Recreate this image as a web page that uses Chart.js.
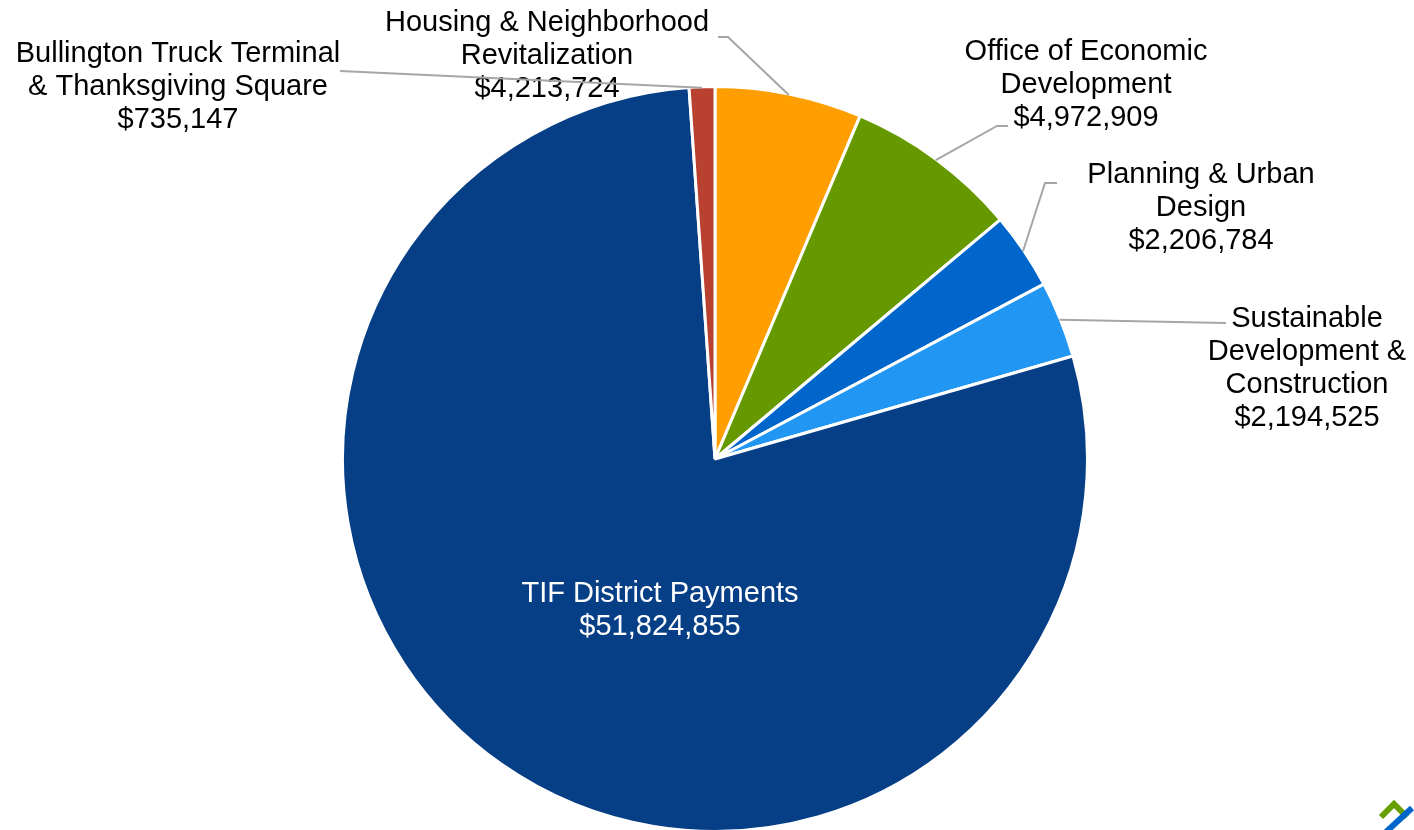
<!DOCTYPE html>
<html>
<head>
<meta charset="utf-8">
<script src="https://cdn.jsdelivr.net/npm/chart.js@4.4.1/dist/chart.umd.min.js"></script>
<style>
  html, body { margin: 0; padding: 0; background: #fff; overflow: hidden; }
  #wrap { width: 1414px; height: 830px; position: relative; overflow: hidden; }
</style>
</head>
<body>
<div id="wrap"><canvas id="grafico" width="1414" height="833"></canvas></div>
<script>
// data, clockwise from 12 o'clock
const categorias = [
    "Housing & Neighborhood Revitalization",
    "Office of Economic Development",
    "Planning & Urban Design",
    "Sustainable Development & Construction",
    "TIF District Payments",
    "Bullington Truck Terminal & Thanksgiving Square"
];
const montos = [4213724, 4972909, 2206784, 2194525, 51824855, 735147];
const colores = ["#FF9E00", "#669900", "#0066CC", "#2196F3", "#073F87", "#B9412F"];

// how each label is broken into lines
const lineasEtiqueta = [
    ["Housing & Neighborhood", "Revitalization"],
    ["Office of Economic", "Development"],
    ["Planning & Urban", "Design"],
    ["Sustainable", "Development &", "Construction"],
    ["TIF District Payments"],
    ["Bullington Truck Terminal", "& Thanksgiving Square"]
];

// label placement: x center, y of first line, leader start and elbow
const posEtiqueta = [
    { x: 547, y: 20, desde: [718, 37], codo: [728, 37] },
    { x: 1086, y: 49, desde: [1008, 126], codo: [997, 126] },
    { x: 1201, y: 172, desde: [1057, 183], codo: [1045, 183] },
    { x: 1307, y: 316, desde: [1226, 323], codo: [1226, 323] },
    { x: 660, y: 591, dentro: true },
    { x: 178, y: 51, desde: [340, 71], codo: [340, 71] }
];

function formatoDolar(v) {
    return "$" + v.toLocaleString("en-US");
}

const etiquetasPlugin = {
    id: "etiquetas",
    afterDatasetsDraw(chart) {
        const ctx = chart.ctx;
        const arcos = chart.getDatasetMeta(0).data;
        ctx.save();
        ctx.font = "29px 'Liberation Sans', Arial, sans-serif";
        ctx.textAlign = "center";
        ctx.textBaseline = "middle";

        arcos.forEach((arco, i) => {
            const p = posEtiqueta[i];
            const lineas = lineasEtiqueta[i].concat([formatoDolar(montos[i])]);

            if (!p.dentro) {
                const medio = (arco.startAngle + arco.endAngle) / 2;
                const px = arco.x + Math.cos(medio) * (arco.outerRadius - 1);
                const py = arco.y + Math.sin(medio) * (arco.outerRadius - 1);
                ctx.strokeStyle = "#A6A6A6";
                ctx.lineWidth = 2;
                ctx.beginPath();
                ctx.moveTo(p.desde[0], p.desde[1]);
                ctx.lineTo(p.codo[0], p.codo[1]);
                ctx.lineTo(px, py);
                ctx.stroke();
            }

            ctx.fillStyle = p.dentro ? "#FFFFFF" : "#000000";
            lineas.forEach((t, k) => {
                ctx.fillText(t, p.x, p.y + 3 + k * 33);
            });
        });

        // small logo in the corner
        ctx.strokeStyle = "#66A000";
        ctx.lineWidth = 6;
        ctx.beginPath();
        ctx.moveTo(1381, 817);
        ctx.lineTo(1394, 804);
        ctx.lineTo(1407, 817);
        ctx.stroke();
        ctx.strokeStyle = "#0066CC";
        ctx.beginPath();
        ctx.moveTo(1386, 832);
        ctx.lineTo(1412, 808);
        ctx.stroke();
        ctx.restore();
    }
};

new Chart("grafico", {
    type: "pie",
    data: {
        labels: categorias,
        datasets: [{
            data: montos,
            backgroundColor: colores,
            borderColor: "#FFFFFF",
            borderWidth: 3
        }]
    },
    options: {
        responsive: false,
        animation: false,
        layout: { padding: { top: 85, bottom: 0, left: 16, right: 0 } },
        plugins: {
            legend: { display: false },
            tooltip: { enabled: false }
        }
    },
    plugins: [etiquetasPlugin]
});
</script>
</body>
</html>
